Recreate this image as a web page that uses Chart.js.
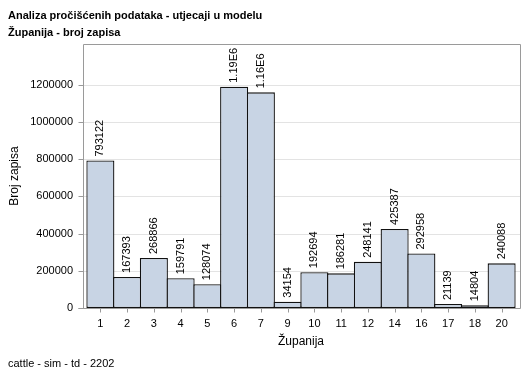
<!DOCTYPE html>
<html><head><meta charset="utf-8">
<script src="https://cdn.jsdelivr.net/npm/chart.js@4"></script>
<style>html,body{margin:0;padding:0;background:#fff}</style>
</head><body>
<div style="width:529px;height:378px"><canvas id="c" width="529" height="378"></canvas></div>
<script>
const titleLines = ['Analiza pročišćenih podataka - utjecaji u modelu', 'Županija - broj zapisa'];
const footnote = 'cattle - sim - td - 2202';
const xTitle = 'Županija';
const yTitle = 'Broj zapisa';
const categories = ['1','2','3','4','5','6','7','9','10','11','12','14','16','17','18','20'];
const counts = [793122, 167393, 268866, 159791, 128074, 1190000, 1160000, 34154, 192694, 186281, 248141, 425387, 292958, 21139, 14804, 240088];
const yTickValues = [0, 200000, 400000, 600000, 800000, 1000000, 1200000];
const yMax = 1420000;
const FONT = '"Liberation Sans", Arial, Helvetica, sans-serif';

function fmt(v) { return v >= 1e6 ? (v / 1e6).toFixed(2) + 'E6' : String(v); }

const decor = {
  id: 'decor',
  beforeDatasetsDraw(chart) {
    const {ctx, chartArea: a, scales: {y}} = chart;
    ctx.save();
    ctx.strokeStyle = '#e3e3e3'; ctx.lineWidth = 1;
    y.ticks.forEach(t => {
      if (t.value === 0) return;
      const py = Math.round(y.getPixelForValue(t.value)) + 0.5;
      ctx.beginPath(); ctx.moveTo(a.left - 4, py); ctx.lineTo(a.right + 5, py); ctx.stroke();
    });
    ctx.restore();
  },
  afterDatasetsDraw(chart) {
    const {ctx, chartArea: a, scales: {x, y}} = chart;
    ctx.save();
    ctx.strokeStyle = '#9a9a9a'; ctx.lineWidth = 1;
    const L = a.left - 4 + 0.5, R = a.right + 5 + 0.5, T = a.top + 0.5, B = Math.round(a.bottom) + 0.5;
    ctx.beginPath();
    ctx.moveTo(L, B); ctx.lineTo(L, T); ctx.lineTo(R, T); ctx.lineTo(R, B); ctx.lineTo(L - 5, B);
    ctx.stroke();
    y.ticks.forEach(t => {
      const py = Math.round(y.getPixelForValue(t.value)) + 0.5;
      ctx.beginPath(); ctx.moveTo(L - 5, py); ctx.lineTo(L, py); ctx.stroke();
    });
    categories.forEach((c, i) => {
      const px = Math.round(x.getPixelForValue(i)) + 0.5;
      ctx.beginPath(); ctx.moveTo(px, B); ctx.lineTo(px, B + 4); ctx.stroke();
    });
    const meta = chart.getDatasetMeta(0);
    ctx.fillStyle = '#000';
    ctx.font = '11px ' + FONT;
    ctx.textAlign = 'left'; ctx.textBaseline = 'middle';
    meta.data.forEach((bar, i) => {
      ctx.save();
      ctx.translate(bar.x, bar.y - 4);
      ctx.rotate(-Math.PI / 2);
      ctx.fillText(fmt(counts[i]), 0, 0);
      ctx.restore();
    });
    ctx.restore();
  },
  afterDraw(chart) {
    const ctx = chart.ctx;
    ctx.save();
    ctx.fillStyle = '#000';
    ctx.textAlign = 'left'; ctx.textBaseline = 'alphabetic';
    ctx.font = 'bold 11px ' + FONT;
    ctx.fillText(titleLines[0], 8, 19);
    ctx.fillText(titleLines[1], 8, 36);
    ctx.font = '11px ' + FONT;
    ctx.fillText(footnote, 8, 367);
    ctx.restore();
  }
};

new Chart(document.getElementById('c'), {
  type: 'bar',
  data: {
    labels: categories,
    datasets: [{
      data: counts,
      backgroundColor: '#c8d4e4',
      borderColor: '#111111',
      borderWidth: 1.3,
      borderSkipped: false,
      barPercentage: 1 + 1.3 / 26.75,
      categoryPercentage: 1,
      clip: false
    }]
  },
  options: {
    responsive: false,
    animation: false,
    events: [],
    layout: {padding: {top: 44, right: 14, bottom: 0, left: 0}},
    plugins: {legend: {display: false}, tooltip: {enabled: false}, title: {display: false}},
    scales: {
      x: {
        grid: {display: false, drawTicks: false},
        border: {display: false},
        ticks: {color: '#000', font: {family: FONT, size: 11}, padding: 9, maxRotation: 0, autoSkip: false},
        title: {display: true, text: xTitle, color: '#000', font: {family: FONT, size: 12}, padding: {top: 0, bottom: 29}},
        afterFit(s) { s.height = 70; }
      },
      y: {
        min: 0, max: yMax,
        afterBuildTicks(s) { s.ticks = yTickValues.map(v => ({value: v})); },
        grid: {display: false, drawTicks: false},
        border: {display: false},
        ticks: {color: '#000', font: {family: FONT, size: 11}, padding: 14, callback: v => String(v)},
        title: {display: true, text: yTitle, color: '#000', font: {family: FONT, size: 12}, padding: {top: 7, bottom: 0}},
        afterFit(s) { s.width = 87; }
      }
    }
  },
  plugins: [decor]
});
</script>
</body></html>
